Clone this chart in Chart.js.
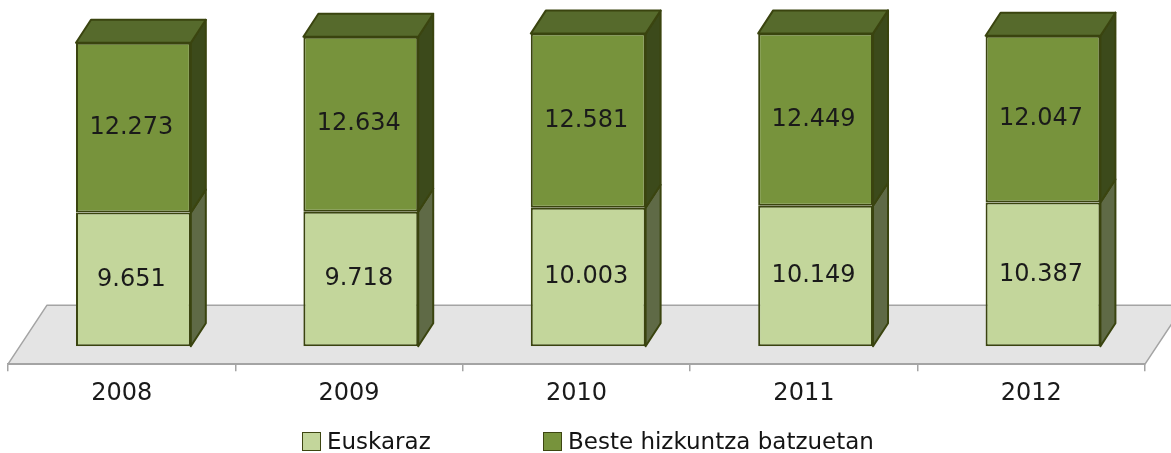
<!DOCTYPE html>
<html>
<head>
<meta charset="utf-8">
<script src="https://cdn.jsdelivr.net/npm/chart.js@4.4.1/dist/chart.umd.min.js"></script>
<style>
  html, body { margin: 0; padding: 0; background: #ffffff; }
  #wrap { position: relative; width: 1171px; height: 453px; overflow: hidden; }
  canvas { display: block; }
  .lg { position: absolute; top: 429px; height: 24px; display: flex; align-items: center;
        font-family: "DejaVu Sans", sans-serif; font-size: 23px; color: #141414; white-space: nowrap; }
  .sw { display: inline-block; width: 17px; height: 17px; border: 1.5px solid #3d4611; margin-right: 6px; }
</style>
</head>
<body>
<div id="wrap">
  <canvas id="c" width="1171" height="453"></canvas>
</div>
<script>
// ---- data ----
const years = ['2008', '2009', '2010', '2011', '2012'];
const euskaraz = [9651, 9718, 10003, 10149, 10387];
const beste = [12273, 12634, 12581, 12449, 12047];
const seriesNames = ['Euskaraz', 'Beste hizkuntza batzuetan'];

// ---- styles ----
const frontColors = ['#c3d69b', '#77933c'];
const sideColors = ['#5f6a46', '#3c4a1b'];
const topColor = '#566a2c';
const edgeColor = '#3a440f';
const legendLeft = [302, 543];

// 3D geometry (pixels)
const SHIFT_X = 11.7, SHIFT_Y = -18;   // front plane of bars behind floor front edge
const DEPTH_X = 15, DEPTH_Y = -23;     // bar depth
const FLOOR_X = 39, FLOOR_Y = -59;     // floor depth

function fmt(v) {
  const s = String(v);
  return s.replace(/\B(?=(\d{3})+(?!\d))/g, '.');
}

function poly(ctx, pts, fill, stroke, lw) {
  ctx.beginPath();
  ctx.moveTo(pts[0][0], pts[0][1]);
  for (let i = 1; i < pts.length; i++) ctx.lineTo(pts[i][0], pts[i][1]);
  ctx.closePath();
  ctx.fillStyle = fill;
  ctx.fill();
  ctx.lineWidth = lw;
  ctx.strokeStyle = stroke;
  ctx.lineJoin = 'round';
  ctx.stroke();
}

const threeD = {
  id: 'threeD',
  beforeDraw(chart) {
    const ctx = chart.ctx, ca = chart.chartArea;
    ctx.save();
    poly(ctx, [
      [ca.left, ca.bottom],
      [ca.left + FLOOR_X, ca.bottom + FLOOR_Y],
      [ca.right + FLOOR_X, ca.bottom + FLOOR_Y],
      [ca.right, ca.bottom]
    ], '#e4e4e4', '#a4a4a4', 1.5);
    ctx.restore();
  },
  beforeDatasetsDraw(chart) {
    const ctx = chart.ctx;
    ctx.save();
    ctx.translate(SHIFT_X, SHIFT_Y);
    const n = chart.data.datasets.length;
    for (let d = 0; d < n; d++) {
      const meta = chart.getDatasetMeta(d);
      meta.data.forEach(el => {
        const p = el.getProps(['x', 'y', 'base', 'width'], true);
        const l = p.x - p.width / 2, r = p.x + p.width / 2;
        poly(ctx, [[r, p.y], [r + DEPTH_X, p.y + DEPTH_Y], [r + DEPTH_X, p.base + DEPTH_Y], [r, p.base]],
             sideColors[d], edgeColor, 2);
        if (d === n - 1) {
          poly(ctx, [[l, p.y], [l + DEPTH_X, p.y + DEPTH_Y], [r + DEPTH_X, p.y + DEPTH_Y], [r, p.y]],
               topColor, edgeColor, 2);
        }
      });
    }
  },
  afterDatasetsDraw(chart) {
    const ctx = chart.ctx;
    ctx.font = '24px "DejaVu Sans"';
    ctx.fillStyle = '#1a1a1a';
    ctx.textAlign = 'center';
    ctx.textBaseline = 'middle';
    chart.data.datasets.forEach((ds, d) => {
      const meta = chart.getDatasetMeta(d);
      meta.data.forEach((el, i) => {
        const p = el.getProps(['x', 'y', 'base'], true);
        ctx.fillText(fmt(ds.data[i]), p.x - 2, (p.y + p.base) / 2);
      });
    });
    ctx.restore();
  }
};

const chart = new Chart(document.getElementById('c'), {
  type: 'bar',
  data: {
    labels: years,
    datasets: [
      { label: seriesNames[0], data: euskaraz, backgroundColor: frontColors[0],
        borderColor: edgeColor, borderWidth: 2, borderSkipped: false },
      { label: seriesNames[1], data: beste, backgroundColor: frontColors[1],
        borderColor: edgeColor, borderWidth: 2, borderSkipped: false }
    ]
  },
  options: {
    responsive: false,
    animation: false,
    categoryPercentage: 1,
    barPercentage: 0.505,
    layout: { padding: { left: 8, right: 26, top: 32, bottom: 37 } },
    plugins: { legend: { display: false }, tooltip: { enabled: false } },
    scales: {
      x: {
        stacked: true,
        grid: { display: true, offset: true, drawOnChartArea: false, drawTicks: true,
                tickLength: 7, color: '#a4a4a4', lineWidth: 1.5 },
        border: { display: true, color: '#a4a4a4', width: 1.5 },
        ticks: { color: '#1a1a1a', font: { family: 'DejaVu Sans', size: 24 }, padding: 8, maxRotation: 0 }
      },
      y: { stacked: true, display: false, min: 0, max: 24000 }
    }
  },
  plugins: [threeD]
});

// legend (HTML)
const wrap = document.getElementById('wrap');
seriesNames.forEach((name, i) => {
  const item = document.createElement('div');
  item.className = 'lg';
  item.style.left = legendLeft[i] + 'px';
  const sw = document.createElement('span');
  sw.className = 'sw';
  sw.style.background = frontColors[i];
  item.appendChild(sw);
  item.appendChild(document.createTextNode(name));
  wrap.appendChild(item);
});
</script>
</body>
</html>
